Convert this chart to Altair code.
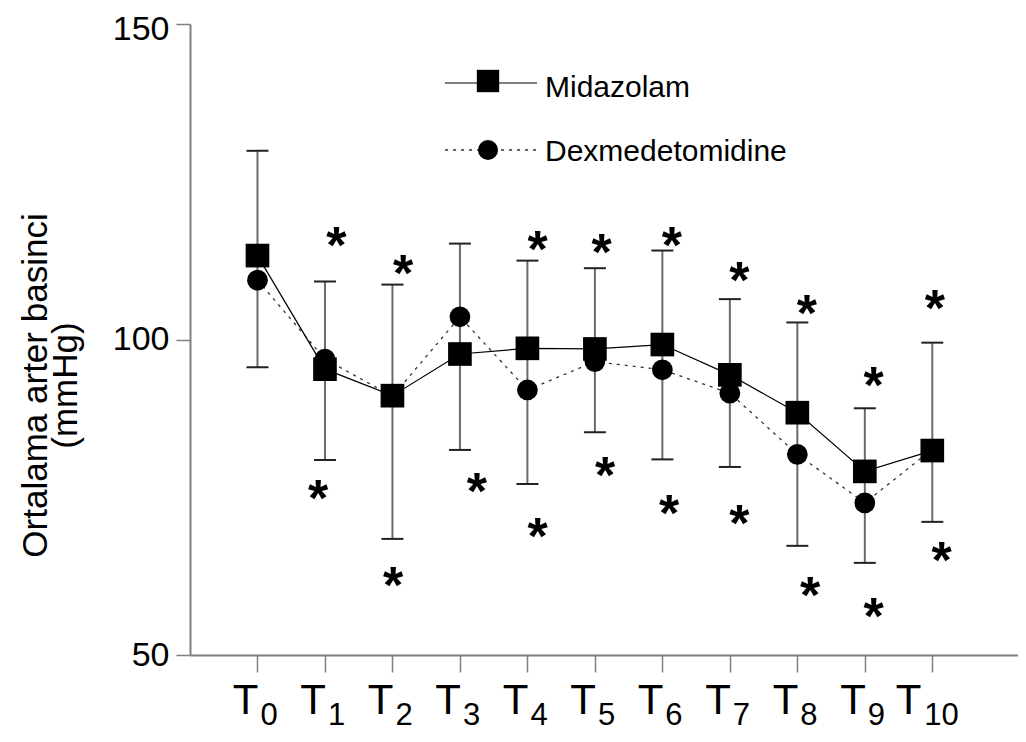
import altair as alt
import pandas as pd

# ---------------- data ----------------
times = [0, 1, 2, 3, 4, 5, 6, 7, 8, 9, 10]
time_subscripts = ["0", "1", "2", "3", "4", "5", "6", "7", "8", "9", "10"]
midazolam = [113.3, 95.3, 91.1, 97.7, 98.6, 98.5, 99.2, 94.4, 88.4, 79.1, 82.4]
dexmedetomidine = [109.4, 96.9, 91.0, 103.6, 92.0, 96.5, 95.2, 91.5, 81.8, 74.1, 82.6]
err_low = [95.6, 80.9, 68.4, 82.5, 77.1, 85.3, 81.0, 79.8, 67.3, 64.6, 71.1]
err_high = [129.9, 109.2, 108.7, 115.2, 112.5, 111.3, 114.1, 106.4, 102.7, 89.1, 99.5]

star_x = [1.17, 2.16, 4.15, 5.10, 6.14, 7.14, 8.14, 9.13, 10.04,
          0.90, 2.01, 3.25, 4.15, 5.15, 6.10, 7.14, 8.19, 9.13, 10.14]
star_y = [116.6, 112.1, 115.9, 115.4, 116.6, 111.0, 105.8, 94.4, 106.6,
          76.5, 62.7, 77.5, 70.4, 80.1, 74.1, 72.5, 61.1, 57.7, 66.7]

legend_labels = ["Midazolam", "Dexmedetomidine"]
y_title = ["Ortalama arter basinci", "(mmHg)"]
y_ticks = [50, 100, 150]

# ---------------- styling ----------------
FONT = "Liberation Sans, Arial, sans-serif"
GRAY = "#7f7f7f"

df = pd.DataFrame({
    "t": times, "sub": time_subscripts, "mid": midazolam, "dex": dexmedetomidine,
    "lo": err_low, "hi": err_high,
})
stars = pd.DataFrame({"sx": star_x, "sy": star_y})
legend_df = pd.DataFrame({"label": legend_labels, "row": [0, 1]})

x_scale = alt.Scale(domain=[-1.0, 11.27], nice=False, zero=False)
y_scale = alt.Scale(domain=[50, 150], nice=False, zero=False)

x_axis = alt.Axis(values=times, labels=False, tickSize=17, tickColor=GRAY, tickWidth=1.5,
                  domainColor=GRAY, domainWidth=2, grid=False)
y_axis = alt.Axis(values=y_ticks, tickSize=14, tickColor=GRAY, tickWidth=1.5,
                  domainColor=GRAY, domainWidth=2, grid=False,
                  labelFont=FONT, labelFontSize=34, labelColor="black", labelPadding=7,
                  labelOffset={"condition": {"test": "datum.value == 150", "value": 5}, "value": 0},
                  titleFont=FONT, titleFontSize=35, titleFontWeight="normal", titleColor="black",
                  titleLineHeight=30, titleX=-137, titleY=361, titleBaseline="bottom",
                  titleAlign="center")


def X(field):
    return alt.X(field, scale=x_scale, axis=x_axis, title=None)


def Y(field):
    return alt.Y(field, scale=y_scale, axis=y_axis, title=y_title)


base = alt.Chart(df)

err_rule = base.mark_rule(color="#6a6a6a", strokeWidth=2).encode(x=X("t:Q"), y=Y("lo:Q"), y2="hi:Q")
cap_lo = base.mark_tick(orient="horizontal", size=22, thickness=2, color="#222222", opacity=1).encode(
    x=X("t:Q"), y=Y("lo:Q"))
cap_hi = base.mark_tick(orient="horizontal", size=22, thickness=2, color="#222222", opacity=1).encode(
    x=X("t:Q"), y=Y("hi:Q"))

dex_line = base.mark_line(color="#333333", strokeWidth=1.3, strokeDash=[3, 5]).encode(x=X("t:Q"), y=Y("dex:Q"))
mid_line = base.mark_line(color="black", strokeWidth=1.2).encode(x=X("t:Q"), y=Y("mid:Q"))
dex_pts = base.mark_point(shape="circle", filled=True, size=430, color="black", opacity=1).encode(
    x=X("t:Q"), y=Y("dex:Q"))
mid_pts = base.mark_point(shape="square", filled=True, size=560, color="black", opacity=1).encode(
    x=X("t:Q"), y=Y("mid:Q"))

star_marks = alt.Chart(stars).mark_text(text="*", font=FONT, fontWeight="bold", fontSize=52,
                                         baseline="alphabetic", dy=28, color="black").encode(
    x=X("sx:Q"), y=Y("sy:Q"))

# x tick labels: T with subscript
t_main_1 = base.transform_filter(alt.datum.t < 10).mark_text(
    text="T", font=FONT, fontSize=42, align="right", baseline="alphabetic", dx=1, color="black"
).encode(x=X("t:Q"), y=alt.value(690))
t_sub_1 = base.transform_filter(alt.datum.t < 10).mark_text(
    font=FONT, fontSize=31, align="left", baseline="alphabetic", dx=3, color="black"
).encode(x=X("t:Q"), y=alt.value(701), text="sub:N")
t_main_2 = base.transform_filter(alt.datum.t >= 10).mark_text(
    text="T", font=FONT, fontSize=42, align="right", baseline="alphabetic", dx=-11, color="black"
).encode(x=X("t:Q"), y=alt.value(690))
t_sub_2 = base.transform_filter(alt.datum.t >= 10).mark_text(
    font=FONT, fontSize=31, align="left", baseline="alphabetic", dx=-8, color="black"
).encode(x=X("t:Q"), y=alt.value(701), text="sub:N")

# legend
leg = alt.Chart(legend_df)
leg_mid_line = leg.transform_filter(alt.datum.row == 0).mark_rule(color="black", strokeWidth=1.2).encode(
    x=alt.value(255), x2=alt.value(347), y=alt.value(59))
leg_mid_pt = leg.transform_filter(alt.datum.row == 0).mark_point(
    shape="square", filled=True, size=500, color="black", opacity=1).encode(x=alt.value(298), y=alt.value(57))
leg_mid_txt = leg.transform_filter(alt.datum.row == 0).mark_text(
    font=FONT, fontSize=30, align="left", baseline="alphabetic", color="black").encode(
    x=alt.value(355), y=alt.value(73), text="label:N")
leg_dex_line = leg.transform_filter(alt.datum.row == 1).mark_rule(
    color="#333333", strokeWidth=1.3, strokeDash=[3, 5]).encode(x=alt.value(255), x2=alt.value(347), y=alt.value(126))
leg_dex_pt = leg.transform_filter(alt.datum.row == 1).mark_point(
    shape="circle", filled=True, size=400, color="black", opacity=1).encode(x=alt.value(298), y=alt.value(126))
leg_dex_txt = leg.transform_filter(alt.datum.row == 1).mark_text(
    font=FONT, fontSize=30, align="left", baseline="alphabetic", color="black").encode(
    x=alt.value(355), y=alt.value(137), text="label:N")

chart = alt.layer(
    err_rule, cap_lo, cap_hi, dex_line, mid_line, dex_pts, mid_pts, star_marks,
    t_main_1, t_sub_1, t_main_2, t_sub_2,
    leg_mid_line, leg_mid_pt, leg_mid_txt, leg_dex_line, leg_dex_pt, leg_dex_txt,
).properties(
    width=828, height=631,
    autosize=alt.AutoSizeParams(type="none"),
    padding={"left": 182, "top": 16, "right": 0, "bottom": 77},
).configure_view(stroke=None)

chart.save("out.html", embed_options={"renderer": "svg", "actions": False})
